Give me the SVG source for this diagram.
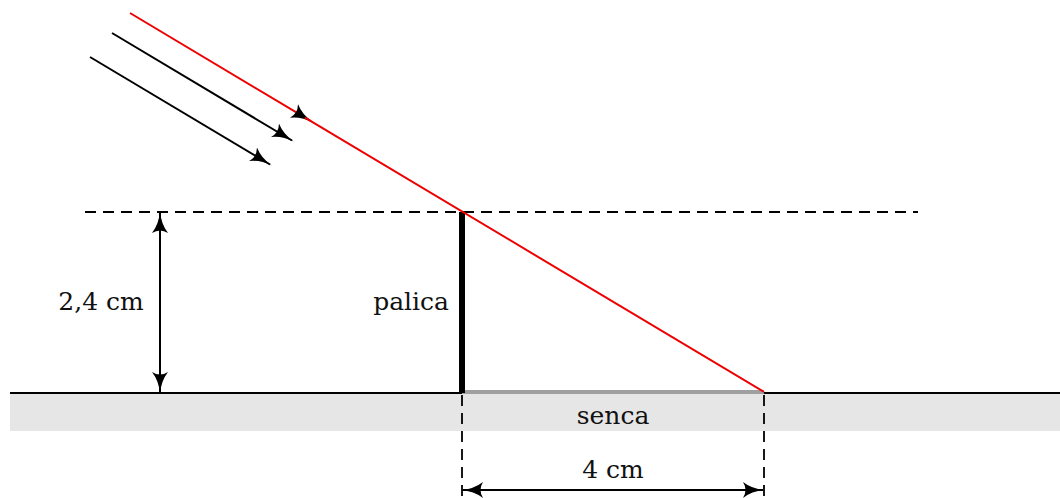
<svg xmlns="http://www.w3.org/2000/svg" width="1060" height="498" viewBox="0 0 1060 498">
<style>
.lbl{font-family:"DejaVu Serif","Liberation Serif",serif;font-size:25px;fill:#111}
.dash{stroke:#000;stroke-width:1.8;stroke-dasharray:11,7;fill:none}
.blk{stroke:#000;stroke-width:2;fill:none}
.red{stroke:#e00;stroke-width:2;fill:none}
</style>
<defs>
<marker id="ah" viewBox="0 0 22 16" refX="20" refY="8" markerWidth="22" markerHeight="16" markerUnits="userSpaceOnUse" orient="auto-start-reverse">
<path d="M0,0 Q9,7 22,8 Q9,9 0,16 Q5,8 0,0 Z" fill="#000"/>
</marker>
</defs>
<g id="ground">
<rect x="10" y="393" width="1050" height="38" fill="#e6e6e6"/>
<line x1="10" y1="393" x2="1060" y2="393" stroke="#000" stroke-width="2"/>
</g>
<g id="shadow">
<line x1="462" y1="392" x2="764" y2="392" stroke="#a0a0a0" stroke-width="4"/>
<text class="lbl" x="613" y="424" text-anchor="middle">senca</text>
</g>
<g id="stick">
<line x1="462" y1="212" x2="462" y2="393" stroke="#000" stroke-width="6"/>
<text class="lbl" x="449" y="310" text-anchor="end">palica</text>
</g>
<g id="connectors">
<line class="dash" x1="85" y1="212" x2="918" y2="212"/>
<line class="dash" x1="462" y1="395" x2="462" y2="496"/>
<line class="dash" x1="764" y1="395" x2="764" y2="496"/>
<line class="red" x1="130" y1="13" x2="311" y2="121.2" marker-end="url(#ah)"/>
<line class="red" x1="305" y1="117.6" x2="764" y2="392"/>
<line class="blk" x1="112" y1="33" x2="292" y2="140.5" marker-end="url(#ah)"/>
<line class="blk" x1="90" y1="57" x2="270" y2="164.5" marker-end="url(#ah)"/>
<line class="blk" x1="160" y1="213" x2="160" y2="392" marker-start="url(#ah)" marker-end="url(#ah)"/>
<line class="blk" x1="463" y1="490" x2="763" y2="490" marker-start="url(#ah)" marker-end="url(#ah)"/>
</g>
<g id="labels">
<text class="lbl" x="101" y="310" text-anchor="middle">2,4 cm</text>
<text class="lbl" x="613" y="478" text-anchor="middle">4 cm</text>
</g>
</svg>
